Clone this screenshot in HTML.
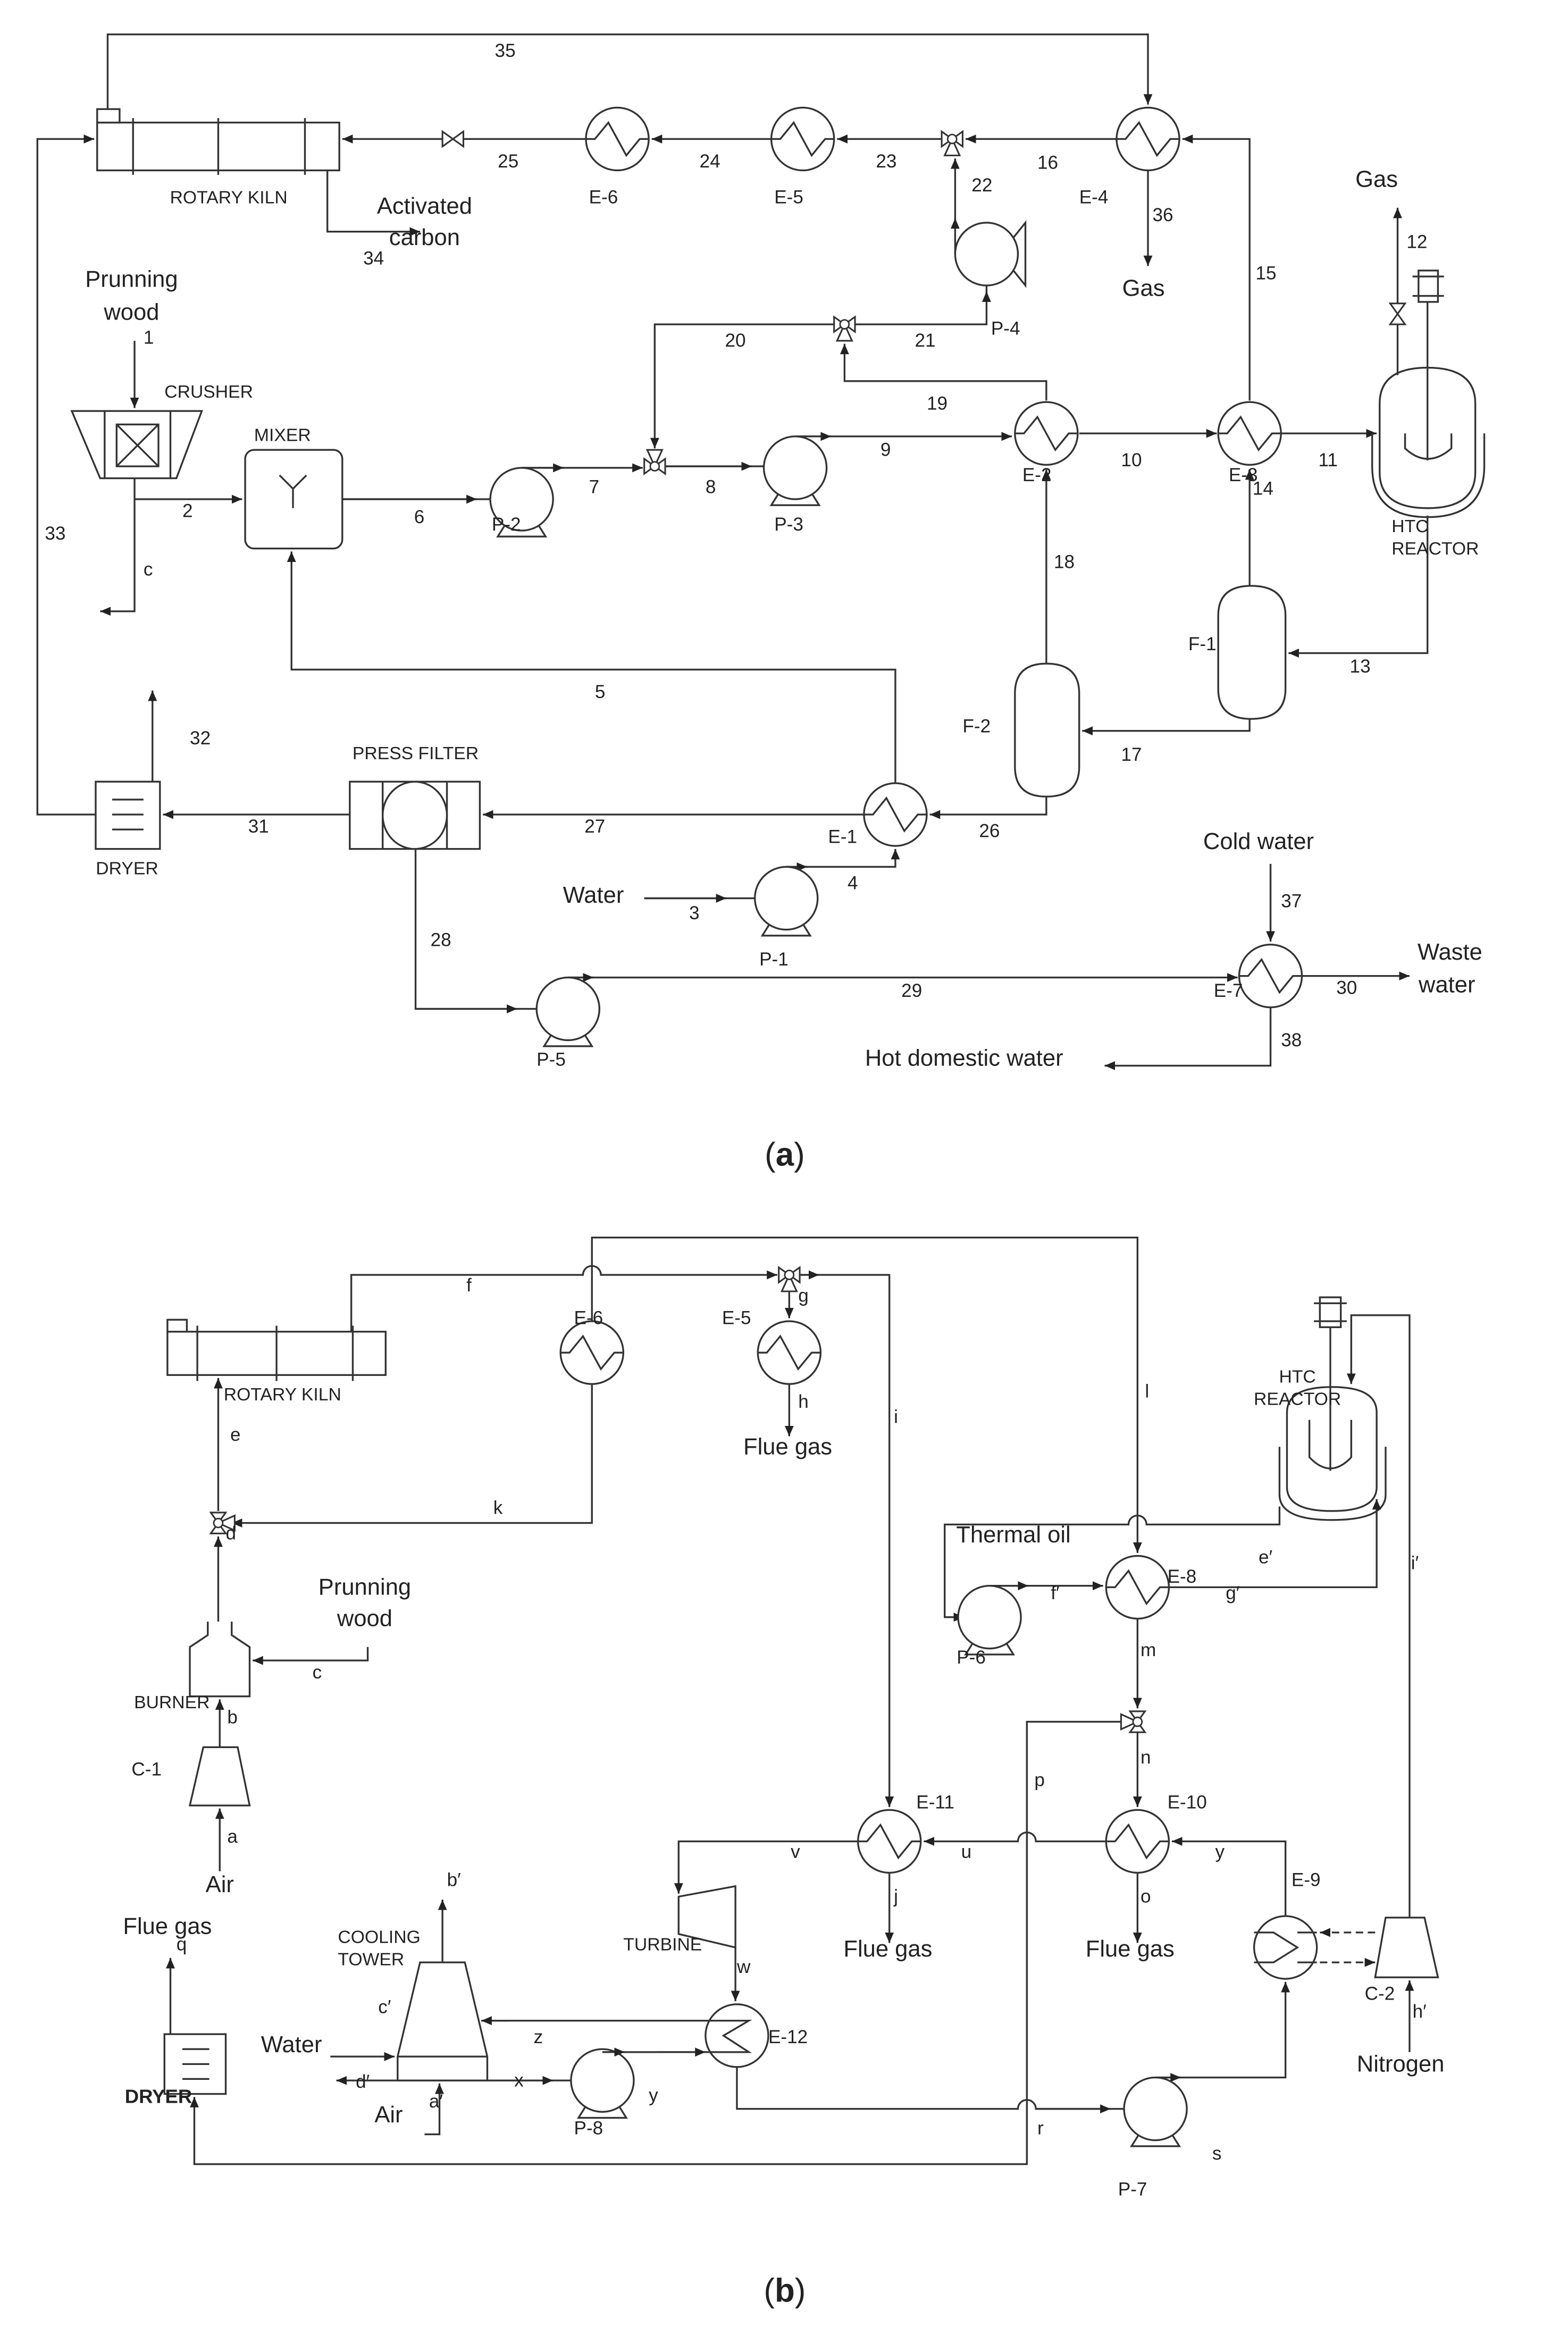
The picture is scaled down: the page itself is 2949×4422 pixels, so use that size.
<!DOCTYPE html>
<html><head><meta charset="utf-8"><style>
html,body{margin:0;padding:0;background:#fff;}
svg{display:block;}
text{font-family:"Liberation Sans",sans-serif;fill:#222;}
.s{font-size:12.5px;}
.b{font-size:15.5px;}
.t{font-size:12px;}
</style></head><body>
<svg width="2949" height="4422" viewBox="0 0 1049 1573" xmlns="http://www.w3.org/2000/svg">
<defs>
<marker id="a" markerWidth="8" markerHeight="8" refX="7" refY="4" orient="auto" markerUnits="userSpaceOnUse"><path d="M0,1 L7,4 L0,7 z" fill="#222"/></marker>
<g id="hx"><circle r="21" fill="#fff" stroke="#333" stroke-width="1.2"/><path d="M-21,0 L-15,0 L-6,-11 L6,11 L15,0 L21,0" fill="none" stroke="#333" stroke-width="1.2"/></g>
<g id="pp"><path d="M-11,17 L-16,25 L16,25 L11,17" fill="#fff" stroke="#333" stroke-width="1.2"/><circle r="21" fill="#fff" stroke="#333" stroke-width="1.2"/></g>
<g id="vv"><path d="M-7,-5 L7,5 L7,-5 L-7,5z" fill="#fff" stroke="#333" stroke-width="1.1"/></g>
<g id="v3"><path d="M-7,-5 L7,5 L7,-5 L-7,5z M0,0 L-5,11 L5,11z" fill="#fff" stroke="#333" stroke-width="1.1"/><circle r="3" fill="#fff" stroke="#333"/></g>
</defs>
<g fill="none" stroke="#333" stroke-width="1.2">
<!-- ===== (a) ===== -->
<path d="M72,73 V23 H768 V70" marker-end="url(#a)"/>
<rect x="65" y="82" width="162" height="32" fill="#fff"/>
<rect x="65" y="73" width="15" height="9" fill="#fff"/>
<path d="M89,79V117 M146,79V117 M204,79V117"/>
<path d="M64,545 H25 V93 H63" marker-end="url(#a)"/>
<path d="M392,93 H310"/>
<path d="M296,93 H229" marker-end="url(#a)"/>
<path d="M516,93 H436" marker-end="url(#a)"/>
<path d="M630,93 H560" marker-end="url(#a)"/>
<path d="M747,93 H646" marker-end="url(#a)"/>
<path d="M836,268 V93 H791" marker-end="url(#a)"/>
<path d="M768,114 V178" marker-end="url(#a)"/>
<path d="M219,114 V155 H281" marker-end="url(#a)"/>
<path d="M639,170 V106" marker-end="url(#a)"/>
<path d="M639,150 V146" marker-end="url(#a)"/>
<path d="M572,217 H660 V172" marker-end="url(#a)"/>
<path d="M660,200 V195" marker-end="url(#a)"/>
<path d="M558,217 H438 V300" marker-end="url(#a)"/>
<path d="M700,268 V255 H565 V230" marker-end="url(#a)"/>
<path d="M349,313 H430" marker-end="url(#a)"/>
<path d="M349,313 H377" marker-end="url(#a)"/>
<path d="M445,312 H530" marker-end="url(#a)"/>
<path d="M445,312 H503" marker-end="url(#a)"/>
<path d="M532,292 H677" marker-end="url(#a)"/>
<path d="M532,292 H556" marker-end="url(#a)"/>
<path d="M722,290 H814" marker-end="url(#a)"/>
<path d="M857,290 H921" marker-end="url(#a)"/>
<path d="M229,334 H347" marker-end="url(#a)"/>
<path d="M229,334 H319" marker-end="url(#a)"/>
<path d="M90,320 V334 H162" marker-end="url(#a)"/>
<path d="M90,334 V409 H67" marker-end="url(#a)"/>
<path d="M90,228 V273" marker-end="url(#a)"/>
<path d="M48,275 L135,275 L118,320 L67,320 Z" fill="#fff"/>
<path d="M70,275 V320 M114,275 V320"/>
<rect x="78" y="284" width="28" height="28"/><path d="M78,284 L106,312 M106,284 L78,312"/>
<rect x="164" y="301" width="65" height="66" rx="6" fill="#fff"/>
<path d="M187,318 L196,327 L205,318 M196,327 V340"/>
<path d="M599,524 V448 H195 V369" marker-end="url(#a)"/>
<rect x="64" y="523" width="43" height="45" fill="#fff"/>
<path d="M75,535H96 M75,545H96 M75,555H96"/>
<path d="M102,523 V462" marker-end="url(#a)"/>
<path d="M234,545 H109" marker-end="url(#a)"/>
<rect x="234" y="523" width="87" height="45" fill="#fff"/>
<path d="M256,523V568 M299,523V568"/>
<ellipse cx="277.5" cy="545.5" rx="21.5" ry="22.5" fill="#fff"/>
<path d="M578,545 H323" marker-end="url(#a)"/>
<path d="M700,533 V545 H622" marker-end="url(#a)"/>
<path d="M679,464 Q679,444 700,444 Q722,444 722,464 L722,513 Q722,533 700,533 Q679,533 679,513 Z" fill="#fff"/>
<path d="M815,412 Q815,392 837,392 Q860,392 860,412 L860,461 Q860,481 837,481 Q815,481 815,461 Z" fill="#fff"/>
<path d="M700,444 V314" marker-end="url(#a)"/>
<path d="M836,392 V314" marker-end="url(#a)"/>
<path d="M836,481 V489 H724" marker-end="url(#a)"/>
<path d="M955,345 V437 H862" marker-end="url(#a)"/>
<path d="M918,290 V312 Q918,346 955,346 Q993,346 993,312 V290"/>
<path d="M923,270 Q923,246 955,246 Q987,246 987,270 V316 Q987,340 955,340 Q923,340 923,316 Z" fill="#fff"/>
<path d="M955,202 V308 M940,290 V300 Q955,314 971,300 V290"/>
<rect x="949" y="181" width="13" height="21" fill="#fff"/><path d="M945,185H966 M945,198H966"/>
<path d="M935,251 V217"/>
<path d="M935,203 V139" marker-end="url(#a)"/>
<path d="M431,601 H524" marker-end="url(#a)"/>
<path d="M431,601 H486" marker-end="url(#a)"/>
<path d="M526,580 H599 V568" marker-end="url(#a)"/>
<path d="M526,580 H540" marker-end="url(#a)"/>
<path d="M278,568 V675 H378" marker-end="url(#a)"/>
<path d="M278,675 H346" marker-end="url(#a)"/>
<path d="M380,654 H828" marker-end="url(#a)"/>
<path d="M380,654 H397" marker-end="url(#a)"/>
<path d="M850,578 V630" marker-end="url(#a)"/>
<path d="M871,653 H943" marker-end="url(#a)"/>
<path d="M850,674 V713 H739" marker-end="url(#a)"/>
<!-- P-4 -->
<circle cx="660" cy="170" r="21" fill="#fff"/>
<path d="M678,159 L686,149 V191 L678,181"/>

<!-- ===== (b) ===== -->
<path d="M396,884 V828 H761 V1039" marker-end="url(#a)"/>
<path d="M235,891 V853 H390 A6,6 0 0 1 402,853 H520" marker-end="url(#a)"/>
<path d="M535,853 H595 V1209" marker-end="url(#a)"/>
<path d="M535,853 H548" marker-end="url(#a)"/>
<path d="M528,864 V882" marker-end="url(#a)"/>
<path d="M528,926 V961" marker-end="url(#a)"/>
<rect x="112" y="891" width="146" height="29" fill="#fff"/>
<rect x="112" y="883" width="13" height="8" fill="#fff"/>
<path d="M132,887V924 M185,887V924 M236,887V924"/>
<path d="M146,1011 V922" marker-end="url(#a)"/>
<path d="M396,926 V1019 H155" marker-end="url(#a)"/>
<path d="M146,1085 V1028" marker-end="url(#a)"/>
<path d="M139,1085 V1094 L127,1102 V1135 H167 V1102 L155,1094 V1085" fill="#fff"/>
<path d="M246,1102 V1111 H169" marker-end="url(#a)"/>
<path d="M147,1169 V1137" marker-end="url(#a)"/>
<path d="M136,1169 H159 L167,1208 H127 Z" fill="#fff"/>
<path d="M147,1252 V1210" marker-end="url(#a)"/>
<rect x="110" y="1361" width="41" height="40" fill="#fff"/>
<path d="M122,1371H140 M122,1381H140 M122,1391H140"/>
<path d="M114,1361 V1310" marker-end="url(#a)"/>
<path d="M754,1152 H687 V1448 H130 V1403" marker-end="url(#a)"/>
<!-- reactor b -->
<path d="M856,968 V1000 Q856,1017 891,1017 Q927,1017 927,1000 V968"/>
<path d="M861,945 Q861,928 891,928 Q921,928 921,945 V995 Q921,1011 891,1011 Q861,1011 861,995 Z" fill="#fff"/>
<path d="M890,888 V984 M876,950 V975 Q890,990 904,975 V950"/>
<rect x="883" y="868" width="14" height="20" fill="#fff"/><path d="M879,872H901 M879,884H901"/>
<path d="M943,1283 V880 H904 V926" marker-end="url(#a)"/>
<path d="M856,1008 V1020 H767 A6,6 0 0 0 755,1020 H632 V1082 H660" marker-end="url(#a)"/>
<path d="M632,1082 H645" marker-end="url(#a)"/>
<path d="M662,1061 H738" marker-end="url(#a)"/>
<path d="M662,1061 H688" marker-end="url(#a)"/>
<path d="M782,1062 H921 V1003" marker-end="url(#a)"/>
<path d="M761,1083 V1143" marker-end="url(#a)"/>
<path d="M761,1159 V1209" marker-end="url(#a)"/>
<path d="M761,1253 V1300" marker-end="url(#a)"/>
<path d="M860,1282 V1232 H784" marker-end="url(#a)"/>
<path d="M740,1232 H693 A6,6 0 0 0 681,1232 H618" marker-end="url(#a)"/>
<path d="M595,1253 V1300" marker-end="url(#a)"/>
<path d="M574,1232 H454 V1267" marker-end="url(#a)"/>
<path d="M454,1269 L492,1262 L492,1303 L454,1294 Z" fill="#fff"/>
<path d="M492,1303 V1339" marker-end="url(#a)"/>
<path d="M493,1383 V1411 H681 A6,6 0 0 1 693,1411 H771" marker-end="url(#a)"/>
<path d="M693,1411 H743" marker-end="url(#a)"/>
<path d="M773,1390 H860 V1326" marker-end="url(#a)"/>
<path d="M773,1390 H790" marker-end="url(#a)"/>
<path d="M943,1373 V1325" marker-end="url(#a)"/>
<path d="M927,1283 H953 L962,1323 H920 Z" fill="#fff"/>
<path d="M920,1293 H883" stroke-dasharray="5,3" marker-end="url(#a)"/>
<path d="M883,1313 H920" stroke-dasharray="5,3" marker-end="url(#a)"/>
<!-- cooling tower -->
<path d="M281,1313 H311 L326,1376 V1392 H266 V1376 Z" fill="#fff"/>
<path d="M266,1376 H326"/>
<path d="M296,1313 V1271" marker-end="url(#a)"/>
<path d="M221,1376 H264" marker-end="url(#a)"/>
<path d="M266,1392 H225" marker-end="url(#a)"/>
<path d="M266,1392 H401" marker-end="url(#a)"/>
<path d="M266,1392 H370" marker-end="url(#a)"/>
<path d="M284,1428 H294 V1394" marker-end="url(#a)"/>
</g>
<!-- component symbols -->
<use href="#vv" x="303" y="93"/>
<use href="#hx" x="413" y="93"/><use href="#hx" x="537" y="93"/><use href="#hx" x="768" y="93"/>
<use href="#v3" x="637" y="93"/>
<use href="#vv" transform="translate(935,210) rotate(90)"/>
<use href="#hx" x="836" y="290"/><use href="#hx" x="700" y="290"/>
<use href="#pp" x="532" y="313"/><use href="#pp" x="349" y="334"/>
<use href="#v3" x="565" y="217"/>
<use href="#v3" transform="translate(438,312) rotate(180)"/>
<use href="#hx" x="599" y="545"/>
<use href="#pp" x="526" y="601"/><use href="#pp" x="380" y="675"/>
<use href="#hx" x="850" y="653"/>
<use href="#v3" x="528" y="853"/>
<use href="#hx" x="396" y="905"/><use href="#hx" x="528" y="905"/>
<use href="#v3" transform="translate(146,1019) rotate(-90)"/>
<use href="#pp" x="662" y="1082"/>
<use href="#hx" x="761" y="1062"/>
<use href="#v3" transform="translate(761,1152) rotate(90)"/>
<use href="#hx" x="761" y="1232"/><use href="#hx" x="595" y="1232"/>
<use href="#pp" x="403" y="1392"/><use href="#pp" x="773" y="1411"/>
<g fill="none" stroke="#333" stroke-width="1.2">
<circle cx="493" cy="1362" r="21" fill="#fff"/>
<path d="M322,1352 H501 L484,1362 L501,1373 H403"/>
<circle cx="860" cy="1303" r="21" fill="#fff"/>
<path d="M839,1293 H852 L868,1303 L852,1313 H839 M868,1293 H881 M868,1313 H881"/>
</g>
<path d="M340,1352 H322" stroke="#333" stroke-width="1.2" marker-end="url(#a)"/>
<path d="M403,1373 H418" stroke="#333" stroke-width="1.2" marker-end="url(#a)"/>
<path d="M440,1373 H472" stroke="#333" stroke-width="1.2" marker-end="url(#a)"/>

<!-- labels (a) -->
<g class="s">
<text x="331" y="38">35</text>
<text x="153" y="136" class="t" text-anchor="middle">ROTARY KILN</text>
<text x="333" y="112">25</text><text x="394" y="136">E-6</text>
<text x="468" y="112">24</text><text x="518" y="136">E-5</text>
<text x="586" y="112">23</text><text x="694" y="113">16</text><text x="722" y="136">E-4</text>
<text x="650" y="128">22</text><text x="771" y="148">36</text>
<text x="840" y="187">15</text><text x="941" y="166">12</text>
<text x="663" y="224">P-4</text>
<text x="243" y="177">34</text>
<text x="30" y="361">33</text>
<text x="96" y="230">1</text><text x="110" y="266" class="t">CRUSHER</text>
<text x="170" y="295" class="t">MIXER</text>
<text x="122" y="346">2</text><text x="96" y="385">c</text>
<text x="277" y="350">6</text><text x="329" y="355">P-2</text>
<text x="394" y="330">7</text><text x="472" y="330">8</text>
<text x="518" y="355">P-3</text><text x="589" y="305">9</text>
<text x="485" y="232">20</text><text x="612" y="232">21</text><text x="620" y="274">19</text>
<text x="750" y="312">10</text><text x="882" y="312">11</text>
<text x="684" y="322">E-2</text><text x="822" y="322">E-3</text>
<text x="931" y="356" class="t">HTC</text><text x="931" y="371" class="t">REACTOR</text>
<text x="838" y="331">14</text><text x="705" y="380">18</text>
<text x="795" y="435">F-1</text><text x="903" y="450">13</text>
<text x="398" y="467">5</text><text x="644" y="490">F-2</text><text x="750" y="509">17</text>
<text x="127" y="498">32</text><text x="278" y="508" class="t" text-anchor="middle">PRESS FILTER</text>
<text x="85" y="585" class="t" text-anchor="middle">DRYER</text><text x="166" y="557">31</text>
<text x="391" y="557">27</text><text x="554" y="564">E-1</text><text x="655" y="560">26</text>
<text x="567" y="595">4</text><text x="461" y="615">3</text><text x="508" y="646">P-1</text>
<text x="288" y="633">28</text><text x="359" y="713">P-5</text>
<text x="603" y="667">29</text><text x="812" y="667">E-7</text>
<text x="857" y="607">37</text><text x="894" y="665">30</text><text x="857" y="700">38</text>
</g>
<g class="b" text-anchor="middle">
<text x="284" y="143">Activated</text><text x="284" y="164">carbon</text>
<text x="921" y="125">Gas</text><text x="765" y="198">Gas</text>
<text x="88" y="192">Prunning</text><text x="88" y="214">wood</text>
<text x="397" y="604">Water</text>
<text x="842" y="568">Cold water</text>
<text x="970" y="642">Waste</text><text x="968" y="664">water</text>
<text x="645" y="713">Hot domestic water</text>
</g>
<text x="525" y="780" text-anchor="middle" style="font-size:22px">(<tspan font-weight="bold">a</tspan>)</text>

<!-- labels (b) -->
<g class="s">
<text x="312" y="864">f</text><text x="534" y="871">g</text><text x="766" y="935">l</text>
<text x="384" y="886">E-6</text><text x="483" y="886">E-5</text>
<text x="189" y="937" class="t" text-anchor="middle">ROTARY KILN</text>
<text x="534" y="942">h</text><text x="598" y="952">i</text>
<text x="154" y="964">e</text><text x="330" y="1013">k</text>
<text x="151" y="1030">d</text><text x="209" y="1123">c</text>
<text x="115" y="1143" class="t" text-anchor="middle">BURNER</text><text x="152" y="1153">b</text>
<text x="88" y="1188">C-1</text><text x="152" y="1233">a</text>
<text x="118" y="1305">q</text>
<text x="868" y="925" class="t" text-anchor="middle">HTC</text><text x="868" y="940" class="t" text-anchor="middle">REACTOR</text>
<text x="842" y="1046">e′</text><text x="944" y="1050">i′</text>
<text x="703" y="1070">f′</text><text x="820" y="1070">g′</text>
<text x="781" y="1059">E-8</text><text x="640" y="1113">P-6</text>
<text x="763" y="1108">m</text><text x="763" y="1180">n</text>
<text x="692" y="1195">p</text><text x="781" y="1210">E-10</text><text x="613" y="1210">E-11</text>
<text x="529" y="1243">v</text><text x="643" y="1243">u</text><text x="813" y="1243">y</text>
<text x="864" y="1262">E-9</text>
<text x="598" y="1273">j</text><text x="763" y="1273">o</text>
<text x="299" y="1262">b′</text>
<text x="226" y="1300" class="t">COOLING</text><text x="226" y="1315" class="t">TOWER</text>
<text x="417" y="1305" class="t">TURBINE</text><text x="493" y="1320">w</text>
<text x="253" y="1347">c′</text><text x="357" y="1367">z</text><text x="514" y="1367">E-12</text>
<text x="238" y="1397">d′</text><text x="344" y="1396">x</text><text x="434" y="1406">y</text>
<text x="287" y="1410">a′</text><text x="384" y="1428">P-8</text>
<text x="945" y="1350">h′</text><text x="913" y="1338">C-2</text>
<text x="694" y="1428">r</text><text x="811" y="1445">s</text><text x="748" y="1469">P-7</text>
</g>
<g class="b" text-anchor="middle">
<text x="527" y="973">Flue gas</text>
<text x="244" y="1067">Prunning</text><text x="244" y="1088">wood</text>
<text x="147" y="1266">Air</text>
<text x="678" y="1032">Thermal oil</text>
<text x="594" y="1309">Flue gas</text><text x="756" y="1309">Flue gas</text>
<text x="112" y="1294">Flue gas</text>
<text x="195" y="1373">Water</text>
<text x="106" y="1407" style="font-weight:bold;font-size:13px">DRYER</text>
<text x="260" y="1420">Air</text>
<text x="937" y="1386">Nitrogen</text>
</g>
<text x="525" y="1540" text-anchor="middle" style="font-size:22px">(<tspan font-weight="bold">b</tspan>)</text>
</svg>
</body></html>
